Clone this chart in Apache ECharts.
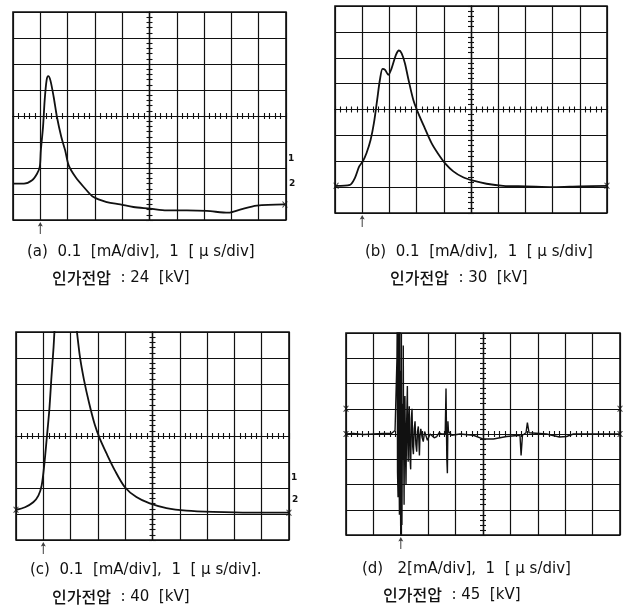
<!DOCTYPE html>
<html><head><meta charset="utf-8">
<script src="https://cdn.jsdelivr.net/npm/echarts@6/dist/echarts.min.js"></script>
<style>html,body{margin:0;padding:0;background:#fff}#c{width:623px;height:613px}</style>
</head><body><div id="c"></div>
<script>
// Traces in screen divisions: x from -5 to 5 (1 µs/div), y from -4 to 4
const traceA = [[-5.0,-2.60],[-4.6,-2.60],[-4.30,-2.47],[-4.12,-2.22],[-4.02,-1.96],[-3.98,-1.32],[-3.90,-0.42],[-3.84,0.60],[-3.77,1.37],[-3.71,1.53],[-3.63,1.37],[-3.51,0.73],[-3.39,-0.04],[-3.23,-0.81],[-3.09,-1.32],[-2.96,-1.90],[-2.71,-2.35],[-2.41,-2.73],[-2.05,-3.12],[-1.56,-3.31],[-1.07,-3.40],[-0.59,-3.50],[0.02,-3.56],[0.63,-3.63],[1.37,-3.63],[2.10,-3.65],[2.89,-3.72],[3.32,-3.60],[3.93,-3.45],[4.96,-3.40]];
const traceB = [[-4.96,-2.95],[-4.45,-2.91],[-4.27,-2.65],[-4.11,-2.20],[-3.98,-2.01],[-3.84,-1.68],[-3.69,-1.17],[-3.57,-0.53],[-3.45,0.37],[-3.35,1.14],[-3.25,1.57],[-3.16,1.53],[-3.04,1.34],[-2.92,1.59],[-2.76,2.11],[-2.65,2.28],[-2.55,2.17],[-2.43,1.79],[-2.31,1.21],[-2.12,0.37],[-1.94,-0.14],[-1.70,-0.72],[-1.45,-1.30],[-1.21,-1.71],[-0.96,-2.07],[-0.65,-2.39],[-0.29,-2.62],[0.08,-2.75],[0.57,-2.87],[1.18,-2.95],[2.04,-2.97],[3.02,-3.00],[3.99,-2.97],[5.00,-2.95]];
const traceC = [[-5.0,-2.84],[-4.67,-2.74],[-4.37,-2.55],[-4.18,-2.29],[-4.06,-1.90],[-3.96,-1.06],[-3.88,-0.16],[-3.78,1.00],[-3.70,2.29],[-3.63,3.32],[-3.55,4.6],[-3.40,5.6],[-3.20,6.0],[-3.00,5.5],[-2.85,4.7],[-2.66,3.06],[-2.51,2.16],[-2.32,1.26],[-2.11,0.42],[-1.93,-0.10],[-1.68,-0.68],[-1.38,-1.32],[-1.01,-1.97],[-0.59,-2.35],[-0.10,-2.59],[0.51,-2.77],[1.24,-2.87],[2.22,-2.92],[3.56,-2.95],[5.0,-2.95]];
const traceD = [[-5.00,0.0],[-4.73,0.02],[-4.37,-0.02],[-4.00,0.0],[-3.64,0.02],[-3.33,0.03],[-3.21,0.14],[-3.15,0.2],[-3.14,3.0],[-3.13,4.5],[-3.12,-1.5],[-3.10,-2.5],[-3.09,2.0],[-3.08,4.4],[-3.065,-1.0],[-3.05,-3.2],[-3.04,3.0],[-3.03,4.2],[-3.015,-2.0],[-3.00,-4.4],[-2.99,-1.2],[-2.98,2.5],[-2.97,-2.4],[-2.96,-3.6],[-2.945,-0.5],[-2.93,1.2],[-2.92,-1.0],[-2.91,3.5],[-2.90,0.4],[-2.88,-2.8],[-2.865,0.6],[-2.85,1.5],[-2.83,-0.6],[-2.81,-2.0],[-2.79,0.3],[-2.76,1.9],[-2.745,-0.3],[-2.73,-1.1],[-2.71,0.5],[-2.69,1.1],[-2.665,-0.9],[-2.64,-1.4],[-2.615,0.6],[-2.59,1.0],[-2.565,-0.5],[-2.54,-0.8],[-2.51,0.2],[-2.48,0.5],[-2.45,-0.4],[-2.42,-0.7],[-2.39,0.1],[-2.36,0.3],[-2.32,-0.85],[-2.30,-0.1],[-2.27,0.2],[-2.22,-0.15],[-2.18,-0.3],[-2.13,0.1],[-2.08,0.1],[-2.03,-0.25],[-1.98,-0.3],[-1.93,0.0],[-1.87,0.05],[-1.78,-0.15],[-1.69,-0.1],[-1.60,0.05],[-1.51,0.0],[-1.38,0.0],[-1.35,1.8],[-1.32,-1.0],[-1.30,-1.55],[-1.28,0.5],[-1.26,0.1],[-1.14,-0.05],[-0.84,0.0],[-0.35,-0.05],[0.01,-0.2],[0.38,-0.2],[0.86,-0.1],[1.35,-0.05],[1.39,-0.85],[1.44,-0.05],[1.57,0.05],[1.62,0.45],[1.68,0.05],[2.32,0.0],[2.79,-0.12],[3.05,-0.1],[3.30,0.0],[4.15,0.0],[5.00,0.0]];
const triggerX = [-4, -4, -4, -3];
const endMarksA = [[4.96,-3.40]];
const endMarksB = [[-4.96,-2.95],[5.0,-2.95]];
const endMarksC = [[-5.0,-2.84],[5.0,-2.95]];
const endMarksD = [[-5.0,0.0],[5.0,0.0],[-5.0,1.0],[5.0,1.0]];
const captionLine1 = ['(a)  0.1  [mA/div],  1  [ μ s/div]', '(b)  0.1  [mA/div],  1  [ μ s/div]', '(c)  0.1  [mA/div],  1  [ μ s/div].', '(d)   2[mA/div],  1  [ μ s/div]'];
const captionVoltage = ['24', '30', '40', '45'];
const voltageLabel = '인가전압';
const channelMarks = [['1','2'], ['',''], ['1','2'], ['','']];

const panels = [
  {left:13, top:12, width:273, height:208},
  {left:335, top:6, width:272, height:207},
  {left:16, top:332, width:273, height:208},
  {left:346, top:333, width:274, height:202}
];
const capPos1 = [[27,245],[365,245],[30,563],[362,562]];
const capPos2 = [[52,270],[390,270],[52,589],[383,587]];
const chanPos = [[[288,154],[289,179]], null, [[291,473],[292,495]], null];

const traces = [traceA, traceB, traceC, traceD];
const endMarks = [endMarksA, endMarksB, endMarksC, endMarksD];
const ink = '#111';
const font = '"DejaVu Sans", "Noto Sans CJK KR", sans-serif';
const grids = [], xAxes = [], yAxes = [], series = [], graphic = [];
panels.forEach((p, i) => {
  grids.push({left:p.left, top:p.top, width:p.width, height:p.height, show:true, borderColor:ink, borderWidth:1.6, backgroundColor:'transparent'});
  const tick = {show:true, length:3.5, lineStyle:{color:ink, width:1.1}};
  const minor = {show:true, splitNumber:5, length:3, lineStyle:{color:ink, width:1.1}};
  const xb = {gridIndex:i, type:'value', min:-5, max:5, interval:1, axisLabel:{show:false}, axisLine:{show:true, onZero:true, lineStyle:{color:ink, width:1.2}}, axisTick:tick, minorTick:minor};
  const yb = {gridIndex:i, type:'value', min:-4, max:4, interval:1, axisLabel:{show:false}, axisLine:{show:true, onZero:true, lineStyle:{color:ink, width:1.2}}, axisTick:tick, minorTick:minor};
  xAxes.push(Object.assign({}, xb, {position:'bottom', splitLine:{show:true, lineStyle:{color:ink, width:1.2}}}));
  xAxes.push(Object.assign({}, xb, {position:'top', splitLine:{show:false}}));
  yAxes.push(Object.assign({}, yb, {position:'left', splitLine:{show:true, lineStyle:{color:ink, width:1.2}}}));
  yAxes.push(Object.assign({}, yb, {position:'right', splitLine:{show:false}}));
  series.push({type:'line', xAxisIndex:2*i, yAxisIndex:2*i, data:traces[i], showSymbol:false, smooth: i < 3 ? 0.3 : false, lineStyle:{color:ink, width: i < 3 ? 1.8 : 1.4}, animation:false});
  series.push({type:'scatter', xAxisIndex:2*i, yAxisIndex:2*i, data:[[triggerX[i], -4]], symbol:'path://M5,0 L8.5,6 L5.7,5 L5.7,16 L4.3,16 L4.3,5 L1.5,6 Z', symbolSize:[5,12], symbolOffset:[0,8], clip:false, itemStyle:{color:ink}, animation:false, silent:true});
  series.push({type:'scatter', xAxisIndex:2*i, yAxisIndex:2*i, data:endMarks[i], symbol:'path://M0,0 L2,0 L5,3.5 L8,0 L10,0 L6,5 L10,10 L8,10 L5,6.5 L2,10 L0,10 L4,5 Z', symbolSize:6, clip:false, itemStyle:{color:ink}, animation:false, silent:true});
  graphic.push({type:'text', left:capPos1[i][0], top:capPos1[i][1], style:{text:captionLine1[i], fill:ink, fontSize:15, fontFamily:font}});
  graphic.push({type:'text', left:capPos2[i][0], top:capPos2[i][1], style:{
    text:'{k|' + voltageLabel + '}  : ' + captionVoltage[i] + '  [kV]', fill:ink, fontSize:15, fontFamily:font,
    rich:{k:{fontFamily:'"Noto Sans CJK KR"', fontSize:16, fontWeight:500, fill:ink}}
  }});
  if (chanPos[i]) {
    chanPos[i].forEach((cp, k) => {
      graphic.push({type:'text', left:cp[0], top:cp[1], style:{text:channelMarks[i][k], fill:ink, fontSize:9, fontWeight:'bold', fontFamily:font}});
    });
  }
});

const chart = echarts.init(document.getElementById('c'), null, {renderer:'canvas'});
chart.setOption({animation:false, backgroundColor:'#fff', grid:grids, xAxis:xAxes, yAxis:yAxes, series:series, graphic:graphic});
</script></body></html>
